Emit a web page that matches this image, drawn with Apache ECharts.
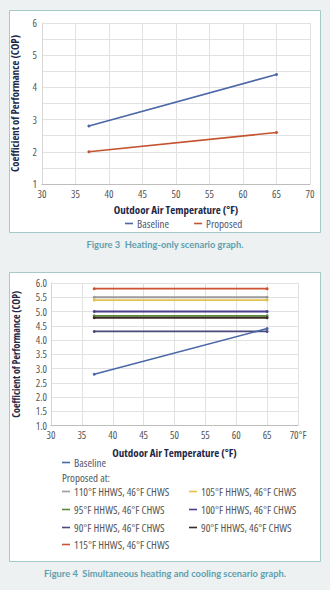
<!DOCTYPE html>
<html>
<head>
<meta charset="utf-8">
<script src="https://cdn.jsdelivr.net/npm/echarts@6/dist/echarts.min.js"></script>
<style>
html,body{margin:0;padding:0;background:#edf1f2;}
#c{width:330px;height:590px;}
#c svg text{font-stretch:condensed !important;}
</style>
</head>
<body>
<div id="c"></div>
<script>
// ---- Data ----
var temps = [37, 65];
// Figure 3
var fig3Names = ['Baseline', 'Proposed'];
var fig3Baseline = [2.8, 4.4];
var fig3Proposed = [2.0, 2.6];
var fig3XTicks = [30, 35, 40, 45, 50, 55, 60, 65, 70];
var fig3YTicks = [1, 2, 3, 4, 5, 6];
// Figure 4
var fig4BaselineName = 'Baseline';
var fig4Baseline = [2.8, 4.4];
var fig4Names = ['110°F HHWS, 46°F CHWS', '105°F HHWS, 46°F CHWS', '95°F HHWS, 46°F CHWS', '100°F HHWS, 46°F CHWS',
                 '90°F HHWS, 46°F CHWS', '90°F HHWS, 46°F CHWS\u200b', '115°F HHWS, 46°F CHWS'];
var fig4Values = [[5.5, 5.5], [5.4, 5.4], [4.85, 4.85], [5.0, 5.0], [4.3, 4.3], [4.78, 4.78], [5.8, 5.8]];
var fig4XTickLabels = ['30', '35', '40', '45', '50', '55', '60', '65', '70°F'];
var fig4YTicks = [1.0, 1.5, 2.0, 2.5, 3.0, 3.5, 4.0, 4.5, 5.0, 5.5, 6.0];
var captions = ['Figure 3  Heating-only scenario graph.', 'Figure 4  Simultaneous heating and cooling scenario graph.'];
var yName = 'Coefficient of Performance (COP)';
var xName = 'Outdoor Air Temperature (°F)';

// ---- Styles ----
var FONT = "'Open Sans', sans-serif";
var fig3Colors = ['#4a67a6', '#c5522f'];
var fig4BaseColor = '#4a67a6';
var fig4Colors = ['#9a9a9a', '#e3c24c', '#5a8a3c', '#4b3f8f', '#4a4b7c', '#3b2a27', '#cc5230'];

function pairs(xs, ys) { return xs.map(function (x, i) { return [x, ys[i]]; }); }

var chart = echarts.init(document.getElementById('c'), null, {renderer: 'svg'});

var series = [];
series.push({name: fig3Names[0], type: 'line', xAxisIndex: 0, yAxisIndex: 0, data: pairs(temps, fig3Baseline),
  symbol: 'circle', symbolSize: 3, lineStyle: {width: 1.6, color: fig3Colors[0]}, itemStyle: {color: fig3Colors[0]}});
series.push({name: fig3Names[1], type: 'line', xAxisIndex: 0, yAxisIndex: 0, data: pairs(temps, fig3Proposed),
  symbol: 'circle', symbolSize: 3, lineStyle: {width: 1.6, color: fig3Colors[1]}, itemStyle: {color: fig3Colors[1]}});
fig4Names.forEach(function (n, i) {
  series.push({name: n, type: 'line', xAxisIndex: 1, yAxisIndex: 1, data: pairs(temps, fig4Values[i]),
    symbol: 'circle', symbolSize: 3, lineStyle: {width: 1.8, color: fig4Colors[i]}, itemStyle: {color: fig4Colors[i]}});
});
series.push({name: fig4BaselineName, type: 'line', xAxisIndex: 1, yAxisIndex: 1, data: pairs(temps, fig4Baseline),
  symbol: 'circle', symbolSize: 3, lineStyle: {width: 1.6, color: fig4BaseColor}, itemStyle: {color: fig4BaseColor}});

var axisLabelStyle = {color: '#555', fontFamily: FONT, fontSize: 10.5};
var nameStyle = {color: '#1f2947', fontFamily: FONT, fontSize: 11, fontWeight: 'bold'};
var splitStyle = {show: true, lineStyle: {color: '#e2e2e2', width: 1}};

function legendCell(name, left, top, color) {
  return {data: [name], left: left, top: top, orient: 'horizontal', icon: 'rect', itemWidth: 8, itemHeight: 1.6,
    itemGap: 4, padding: 0, selectedMode: false,
    textStyle: {color: color || '#555', fontFamily: FONT, fontSize: 11, padding: [0, 0, 0, -1]},
    formatter: function (n) { return n.replace('\u200b', ''); }};
}

var option = {
  animation: false,
  backgroundColor: '#edf1f2',
  graphic: [
    {type: 'rect', shape: {x: 9.5, y: 10.5, width: 311, height: 222}, style: {fill: '#fff', stroke: '#a3c9c9', lineWidth: 1}, z: -10},
    {type: 'rect', shape: {x: 9.5, y: 272.5, width: 311, height: 289}, style: {fill: '#fff', stroke: '#a3c9c9', lineWidth: 1}, z: -10},
    {type: 'text', left: 'center', top: 240, style: {text: captions[0], fill: '#5f9fae', font: "bold 9.3px Lato, sans-serif"}},
    {type: 'text', left: 'center', top: 569, style: {text: captions[1], fill: '#5f9fae', font: "bold 9.3px Lato, sans-serif"}},
    {type: 'text', left: 62, top: 472, style: {text: 'Proposed at:', fill: '#555', font: "11px " + FONT}}
  ],
  grid: [
    {left: 42, top: 23, width: 268, height: 161},
    {left: 51, top: 283, width: 247, height: 142.5}
  ],
  xAxis: [
    {type: 'value', gridIndex: 0, min: fig3XTicks[0], max: fig3XTicks[fig3XTicks.length - 1], interval: 5,
      name: xName, nameLocation: 'middle', nameGap: 19.5, nameTextStyle: nameStyle,
      axisLine: {show: true, lineStyle: {color: '#bdbdbd'}}, axisTick: {show: false},
      axisLabel: Object.assign({margin: 4}, axisLabelStyle), splitLine: splitStyle},
    {type: 'value', gridIndex: 1, min: 30, max: 70, interval: 5,
      name: xName, nameLocation: 'middle', nameGap: 21, nameTextStyle: nameStyle,
      axisLine: {show: true, lineStyle: {color: '#bdbdbd'}}, axisTick: {show: false},
      axisLabel: Object.assign({margin: 4, formatter: function (v) { return fig4XTickLabels[Math.round((v - 30) / 5)]; }}, axisLabelStyle),
      splitLine: splitStyle}
  ],
  yAxis: [
    {type: 'value', gridIndex: 0, min: fig3YTicks[0], max: fig3YTicks[fig3YTicks.length - 1], interval: 0.5,
      name: yName, nameLocation: 'middle', nameGap: 20, nameTextStyle: Object.assign({}, nameStyle, {fontSize: 10.8}),
      axisLine: {show: true, lineStyle: {color: '#d6d6d6'}}, axisTick: {show: false},
      axisLabel: Object.assign({margin: 5, formatter: function (v) { return fig3YTicks.indexOf(v) >= 0 ? String(v) : ''; }}, axisLabelStyle),
      splitLine: splitStyle},
    {type: 'value', gridIndex: 1, min: fig4YTicks[0], max: fig4YTicks[fig4YTicks.length - 1], interval: 0.5,
      name: yName, nameLocation: 'middle', nameGap: 23, nameTextStyle: Object.assign({}, nameStyle, {fontSize: 10}),
      axisLine: {show: true, lineStyle: {color: '#d6d6d6'}}, axisTick: {show: false},
      axisLabel: Object.assign({margin: 4, formatter: function (v) { return v.toFixed(1); }}, axisLabelStyle),
      splitLine: splitStyle}
  ],
  legend: [
    {data: fig3Names, left: 125, top: 218, icon: 'rect', itemWidth: 8, itemHeight: 1.6, itemGap: 14, padding: 0,
      selectedMode: false, textStyle: {color: '#4d5570', fontFamily: FONT, fontSize: 11, padding: [0, 0, 0, -1]}},
    legendCell(fig4BaselineName, 62, 457, '#4d5570'),
    legendCell(fig4Names[0], 62, 486),
    legendCell(fig4Names[1], 189, 486),
    legendCell(fig4Names[2], 62, 504),
    legendCell(fig4Names[3], 189, 504),
    legendCell(fig4Names[4], 62, 522),
    legendCell(fig4Names[5], 189, 522),
    legendCell(fig4Names[6], 62, 539)
  ],
  series: series
};
chart.setOption(option);
</script>
</body>
</html>
